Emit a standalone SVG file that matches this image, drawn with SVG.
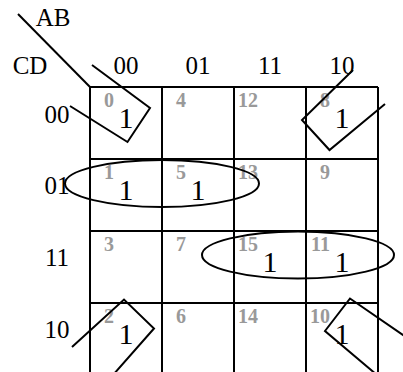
<svg xmlns="http://www.w3.org/2000/svg" width="403" height="372" viewBox="0 0 403 372">
<style>
.lbl{font-family:"Liberation Serif","Times New Roman",serif;font-size:25px;fill:#000;text-anchor:middle}
.one{font-family:"Liberation Serif","Times New Roman",serif;font-size:30px;fill:#000;text-anchor:middle}
.idx{font-family:"Liberation Serif","Times New Roman",serif;font-size:20px;font-weight:bold;fill:#999;text-anchor:end}
.grid{stroke:#000;stroke-width:2;fill:none}
.grp{stroke:#000;stroke-width:2;fill:none;stroke-linejoin:miter}
</style>
<rect width="403" height="372" fill="#fff"/>
<g id="axis">
<line x1="18" y1="14" x2="90" y2="87" class="grid"/>
<text x="53" y="26" class="lbl">AB</text>
<text x="30" y="74" class="lbl">CD</text>
</g>
<g id="col-labels">
<text x="126" y="74" class="lbl">00</text>
<text x="198" y="74" class="lbl">01</text>
<text x="270" y="74" class="lbl">11</text>
<text x="342" y="74" class="lbl">10</text>
</g>
<g id="row-labels">
<text x="57" y="123" class="lbl">00</text>
<text x="57" y="194" class="lbl">01</text>
<text x="57" y="266" class="lbl">11</text>
<text x="57" y="338" class="lbl">10</text>
</g>
<g id="grid">
<path class="grid" d="M90 87V372M162 87V372M234 87V372M306 87V372M378 87V372M90 87H378M90 159H378M90 231H378M90 303H378"/>
</g>
<g id="cells">
<g id="c0"><text x="114" y="107" class="idx">0</text><text x="126" y="128" class="one">1</text></g>
<g id="c4"><text x="186" y="107" class="idx">4</text></g>
<g id="c12"><text x="258" y="107" class="idx">12</text></g>
<g id="c8"><text x="330" y="107" class="idx">8</text><text x="342" y="128" class="one">1</text></g>
<g id="c1"><text x="114" y="179" class="idx">1</text><text x="126" y="200" class="one">1</text></g>
<g id="c5"><text x="186" y="179" class="idx">5</text><text x="198" y="200" class="one">1</text></g>
<g id="c13"><text x="258" y="179" class="idx">13</text></g>
<g id="c9"><text x="330" y="179" class="idx">9</text></g>
<g id="c3"><text x="114" y="251" class="idx">3</text></g>
<g id="c7"><text x="186" y="251" class="idx">7</text></g>
<g id="c15"><text x="258" y="251" class="idx">15</text><text x="270" y="272" class="one">1</text></g>
<g id="c11"><text x="330" y="251" class="idx">11</text><text x="342" y="272" class="one">1</text></g>
<g id="c2"><text x="114" y="323" class="idx">2</text><text x="126" y="344" class="one">1</text></g>
<g id="c6"><text x="186" y="323" class="idx">6</text></g>
<g id="c14"><text x="258" y="323" class="idx">14</text></g>
<g id="c10"><text x="330" y="323" class="idx">10</text><text x="342" y="344" class="one">1</text></g>
</g>
<g id="groups">
<polyline class="grp" points="92,65 150,108 127.5,142 70,106"/>
<polyline class="grp" points="353,70 302,120 329.5,150 385,104"/>
<polyline class="grp" points="72,347 124,299.5 154,328.5 113,375"/>
<polyline class="grp" points="377,375 325,331 350,298.5 406,337"/>
<ellipse class="grp" cx="162" cy="183.5" rx="97" ry="23.5"/>
<ellipse class="grp" cx="298" cy="255" rx="96" ry="23.5"/>
</g>
</svg>
